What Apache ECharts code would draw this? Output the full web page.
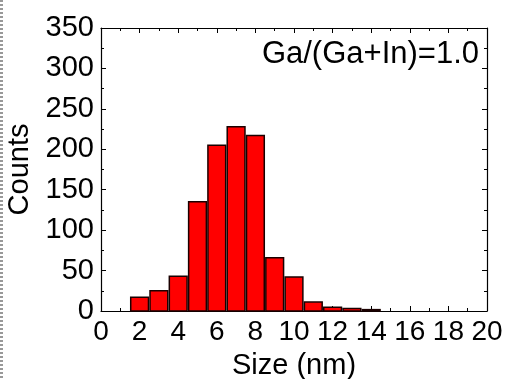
<!DOCTYPE html>
<html>
<head>
<meta charset="utf-8">
<script src="https://cdn.jsdelivr.net/npm/echarts@6/dist/echarts.min.js"></script>
<style>
  html, body { margin: 0; padding: 0; background: #fff; }
  #chart { width: 508px; height: 379px; }
</style>
</head>
<body>
<div id="chart"></div>
<script>
// histogram bins (bin centre, nm) and counts
var binCenters = [2, 3, 4, 5, 6, 7, 8, 9, 10, 11, 12, 13, 14];
var counts = [17, 25, 43, 135, 205, 228, 217, 66, 42, 11, 4.5, 3, 1.7];
var xTicks = [0, 2, 4, 6, 8, 10, 12, 14, 16, 18, 20];
var yTicks = [0, 50, 100, 150, 200, 250, 300, 350];
var note = 'Ga/(Ga+In)=1.0';

var init = function () {
    var chart = echarts.init(document.getElementById('chart'));
    var font = 'Liberation Sans, Arial, sans-serif';
    var axisLine = { show: true, onZero: false, lineStyle: { color: '#000', width: 1.2 } };
    var tick = { show: true, inside: true, length: 5, lineStyle: { color: '#000', width: 1 } };
    var minor = { show: true, splitNumber: 2, length: 3, lineStyle: { color: '#000', width: 1 } };

    var data = binCenters.map(function (c, i) { return [c, counts[i]]; });

    var option = {
        animation: false,
        grid: { left: 101, right: 21, top: 28, bottom: 68, outerBoundsMode: 'none' },
        graphic: [
            {
                type: 'line',
                shape: { x1: 1.5, y1: 0, x2: 1.5, y2: 379 },
                style: { stroke: '#999', lineWidth: 3, lineDash: [2, 2] }
            },
            {
                type: 'text',
                right: 29,
                top: 39,
                style: { text: note, fontSize: 31, fontFamily: font, fill: '#000' }
            }
        ],
        xAxis: [
            {
                type: 'value',
                min: xTicks[0],
                max: xTicks[xTicks.length - 1],
                interval: 2,
                position: 'bottom',
                axisLine: axisLine,
                axisTick: tick,
                minorTick: minor,
                splitLine: { show: false },
                axisLabel: { color: '#000', fontSize: 28, fontFamily: font, margin: 7 },
                name: 'Size (nm)',
                nameLocation: 'middle',
                nameGap: 40,
                nameTextStyle: { color: '#000', fontSize: 29, fontFamily: font }
            },
            {
                type: 'value',
                min: xTicks[0],
                max: xTicks[xTicks.length - 1],
                interval: 2,
                position: 'top',
                axisLine: axisLine,
                axisTick: tick,
                minorTick: minor,
                splitLine: { show: false },
                axisLabel: { show: false }
            }
        ],
        yAxis: [
            {
                type: 'value',
                min: yTicks[0],
                max: yTicks[yTicks.length - 1],
                interval: 50,
                position: 'left',
                axisLine: axisLine,
                axisTick: tick,
                minorTick: minor,
                splitLine: { show: false },
                axisLabel: { color: '#000', fontSize: 29, fontFamily: font, margin: 7 },
                name: 'Counts',
                nameLocation: 'middle',
                nameRotate: 90,
                nameGap: 63,
                nameTextStyle: { color: '#000', fontSize: 29, fontFamily: font }
            },
            {
                type: 'value',
                min: yTicks[0],
                max: yTicks[yTicks.length - 1],
                interval: 50,
                position: 'right',
                axisLine: axisLine,
                axisTick: tick,
                minorTick: minor,
                splitLine: { show: false },
                axisLabel: { show: false }
            }
        ],
        series: [
            {
                type: 'custom',
                xAxisIndex: 0,
                yAxisIndex: 0,
                data: data,
                renderItem: function (params, api) {
                    var x = api.value(0);
                    var y = api.value(1);
                    var p0 = api.coord([x - 0.46, y]);
                    var p1 = api.coord([x + 0.46, 0]);
                    return {
                        type: 'rect',
                        shape: { x: p0[0], y: p0[1], width: p1[0] - p0[0], height: p1[1] - p0[1] },
                        style: { fill: '#ff0000', stroke: '#1a0000', lineWidth: 1.5 }
                    };
                }
            }
        ]
    };
    chart.setOption(option);
};

init();
</script>
</body>
</html>
